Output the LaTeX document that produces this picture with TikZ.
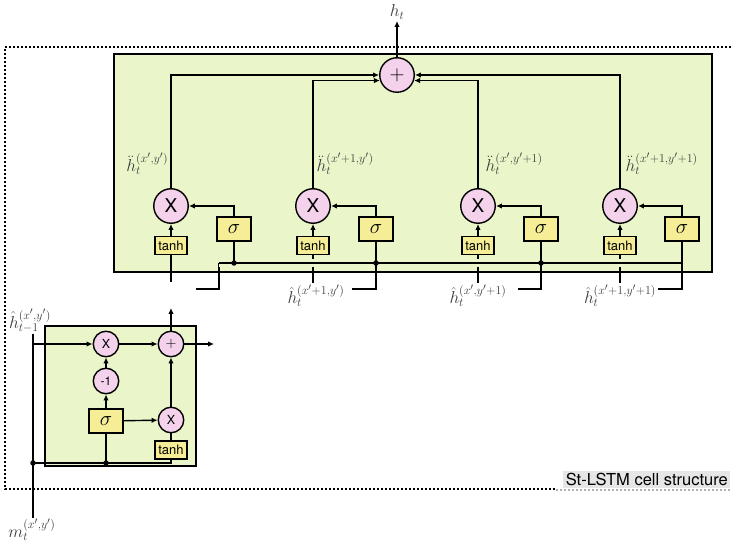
\documentclass[tikz,border=0pt]{standalone}
\usepackage{fontspec}
\setmainfont{TeX Gyre Heros}
\usetikzlibrary{arrows.meta,calc}
\definecolor{cellgreen}{RGB}{234,246,202}
\definecolor{gatepink}{RGB}{244,210,235}
\definecolor{boxyellow}{RGB}{245,238,150}
\definecolor{labelgray}{RGB}{230,230,230}
\definecolor{mathgray}{RGB}{60,60,60}
\begin{document}
\begin{tikzpicture}[x=1pt,y=-1pt,line width=1.4pt,>={Latex[length=6pt,width=5.5pt]},
  op/.style={circle,draw,fill=gatepink,minimum size=34.5pt,inner sep=0pt,font=\fontsize{19}{19}\selectfont},
  sop/.style={circle,draw,fill=gatepink,minimum size=25.5pt,inner sep=0pt,font=\fontsize{12.5}{12.5}\selectfont},
  sig/.style={draw,fill=boxyellow,minimum width=34pt,minimum height=24pt,inner sep=0pt,font=\fontsize{20.74}{21}\selectfont},
  tnh/.style={draw,fill=boxyellow,minimum width=32pt,minimum height=18pt,inner sep=0pt,font=\fontsize{13}{13}\selectfont},
  lbl/.style={inner sep=1pt,text=mathgray,font=\fontsize{17.28}{20}\selectfont},
  jdot/.style={circle,fill,inner sep=0pt,minimum size=5.5pt},
  framestyle/.style={line width=1.6pt,dash pattern=on 2pt off 2pt},
  cellbox/.style={draw,fill=cellgreen,line width=1.5pt}]
\path[use as bounding box] (0,0) rectangle (731,545);

% outer dotted frame
\draw[framestyle] (731,47) -- (5,47) -- (5,489) -- (556,489);
\draw[framestyle,draw=black!30] (556,490) -- (731,490);
\node[fill=labelgray,inner sep=2.5pt,anchor=south east,font=\fontsize{16.5}{18}\selectfont] (title) at (731,489) {St-LSTM cell structure};

% ---------- top cell ----------
\draw[cellbox] (114,54) rectangle (712,272);
\node[op,font=\fontsize{22}{22}\selectfont] (plus) at (397,75) {$+$};
\node[lbl] (ht) at (397,12) {$h_t$};
\draw[->] (plus.north) -- (ht.south);

\foreach \i/\xx/\sx in {1/171/234,2/313/376,3/478/541,4/620/682}{
  \node[op] (X\i) at (\xx,206) {X};
  \node[sig] (S\i) at (\sx,229) {$\sigma$};
  \node[tnh] (T\i) at (\xx,245.5) {tanh};
  \draw[->] (S\i.north) |- (X\i.east);
  \draw[->] (T\i.north) -- (X\i.south);
}
\draw[->] (X1.north) |- (plus.west);
\draw[->] (X2.north) |- (plus.198);
\draw[->] (X3.north) |- (plus.342);
\draw[->] (X4.north) |- (plus.east);

\node[lbl,anchor=east] (L1) at (170,164) {$\ddot{h}_t^{(x',y')}$};
\node[lbl,anchor=west] (L2) at (315,164) {$\ddot{h}_t^{(x'+1,y')}$};
\node[lbl,anchor=west] (L3) at (484,164) {$\ddot{h}_t^{(x',y'+1)}$};
\node[lbl,anchor=west] (L4) at (624,164) {$\ddot{h}_t^{(x'+1,y'+1)}$};

\node[lbl,anchor=north] (H2) at (316,283) {$\hat{h}_t^{(x'+1,y')}$};
\node[lbl,anchor=north] (H3) at (478,283) {$\hat{h}_t^{(x',y'+1)}$};
\node[lbl,anchor=north] (H4) at (620,283) {$\hat{h}_t^{(x'+1,y'+1)}$};

% tanh inputs
\coordinate (t1in) at (171,282);
\draw (T1.south) -- (t1in);
\draw (T2.south) -- (T2.south |- H2.north);
\draw (T3.south) -- (T3.south |- H3.north);
\draw (T4.south) -- (T4.south |- H4.north);

% bus
\coordinate (busin) at (196,289);
\coordinate (busbend) at (219,289);
\coordinate (busl) at (219,263);
\coordinate (busr) at (682,263);
\draw (busin) -- (busbend) -- (busl);
\draw[preaction={draw=cellgreen,line width=8pt}] (busl) -- (busr);

% sigma inputs
\draw (S1.south) -- (S1.south |- busl);
\node[jdot] at (S1.south |- busl) {};
\coordinate (s2e) at (352,289);
\coordinate (s3e) at (518,289);
\coordinate (s4e) at (658,289);
\draw (S2.south) |- (s2e);
\draw (S3.south) |- (s3e);
\draw (S4.south) |- (s4e);
\node[jdot] at (S2.south |- busl) {};
\node[jdot] at (S3.south |- busl) {};

% ---------- bottom-left cell ----------
\draw[cellbox] (45,326) rectangle (196,466);
\node[sop] (sx1) at (106,344) {X};
\node[sop,font=\fontsize{14}{14}\selectfont] (splus) at (171,344) {$+$};
\node[sop,font=\fontsize{12}{12}\selectfont] (sm1) at (106,381) {-1};
\node[sig] (ssig) at (106,421) {$\sigma$};
\node[sop] (sx2) at (171,420) {X};
\node[tnh] (stanh) at (171,450) {tanh};

\node[lbl] (hl) at (30,321) {$\hat{h}_{t-1}^{(x',y')}$};
\node[lbl] (ml) at (32,530) {$m_t^{(x',y')}$};
\coordinate (vtop) at (33,334);
\coordinate (vbot) at (33,518);
\draw (vtop) -- (vbot);
\draw[->] (vtop |- sx1) -- (sx1);
\draw[->] (sx1) -- (splus);
\draw[->] (sm1) -- (sx1);
\draw[->] (ssig) -- (sm1);
\draw[->] (ssig) -- (sx2);
\draw[->] (sx2) -- (splus);
\draw (stanh) -- (sx2);
\coordinate (sout) at (214,344);
\coordinate (sup2) at (171,308);
\draw[->] (splus.east) -- (sout);
\draw[->] (splus.north) -- (sup2);
\coordinate (mj) at (33,463);
\draw (mj) -- (mj -| stanh) -- (stanh.south);
\draw (ssig.south) -- (ssig |- mj);
\node[jdot] at (mj) {};
\node[jdot] at (ssig |- mj) {};
\end{tikzpicture}
\end{document}
